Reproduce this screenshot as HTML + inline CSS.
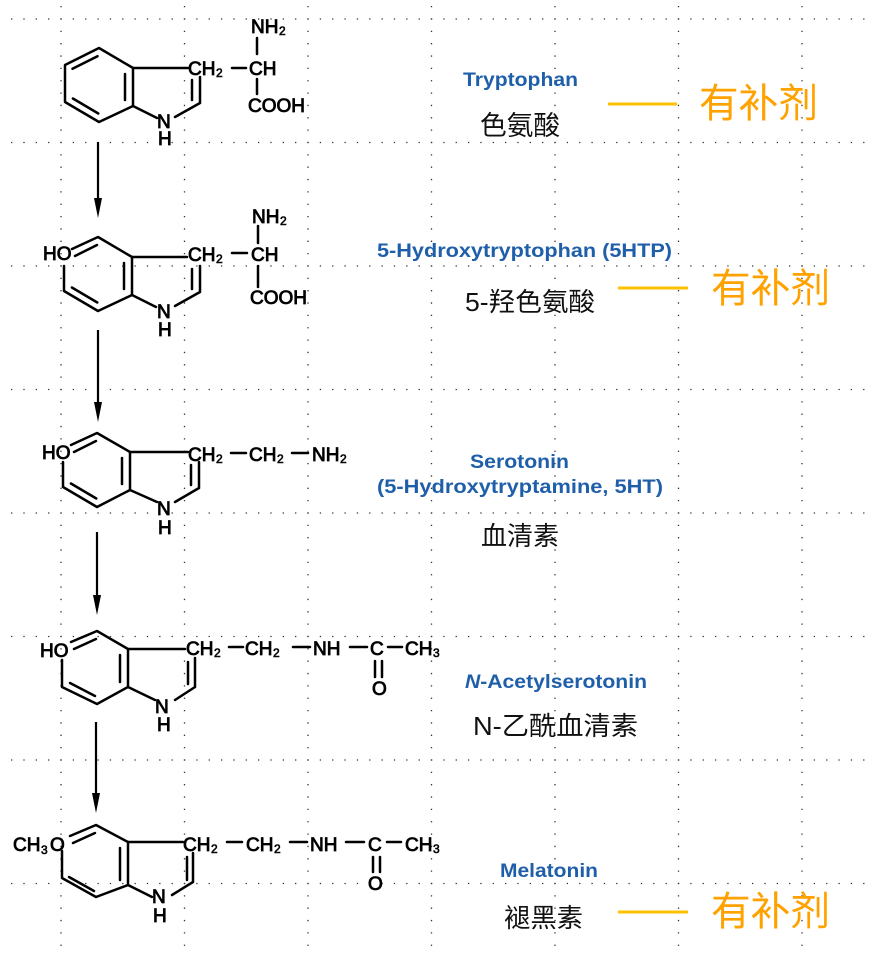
<!DOCTYPE html>
<html><head><meta charset="utf-8"><style>
html,body{margin:0;padding:0;background:#fff;}
svg{display:block;}
.s text{font-family:"Liberation Sans",Arial,sans-serif;font-size:19px;fill:#000;stroke:#000;stroke-width:0.85;}
.s text.sub{font-size:12px;stroke-width:0.6;}
.b{stroke:#000;stroke-width:2.5;fill:none;stroke-linecap:round;stroke-linejoin:round;}
.lbl{font-family:"Liberation Sans",Arial,sans-serif;font-weight:bold;font-size:19px;fill:#1f5faa;}
.cn{font-family:"Liberation Sans","Noto Sans CJK SC",sans-serif;fill:#111;}
.or{font-family:"Noto Sans CJK SC","Liberation Sans",sans-serif;fill:#ffa200;font-size:40px;}
</style></head><body>
<svg width="871" height="955" viewBox="0 0 871 955" xmlns="http://www.w3.org/2000/svg">
<rect width="871" height="955" fill="#fff"/>
<g stroke="#333" stroke-width="1.3" stroke-dasharray="1.3 11.05">
<line x1="11" y1="19" x2="871" y2="19"/>
<line x1="11" y1="142.5" x2="871" y2="142.5"/>
<line x1="11" y1="266" x2="871" y2="266"/>
<line x1="11" y1="389.5" x2="871" y2="389.5"/>
<line x1="11" y1="513" x2="871" y2="513"/>
<line x1="11" y1="636.5" x2="871" y2="636.5"/>
<line x1="11" y1="760" x2="871" y2="760"/>
<line x1="11" y1="883.5" x2="871" y2="883.5"/>
<line x1="61" y1="6" x2="61" y2="955"/>
<line x1="184.5" y1="6" x2="184.5" y2="955"/>
<line x1="308" y1="6" x2="308" y2="955"/>
<line x1="431.5" y1="6" x2="431.5" y2="955"/>
<line x1="555" y1="6" x2="555" y2="955"/>
<line x1="678.5" y1="6" x2="678.5" y2="955"/>
<line x1="802" y1="6" x2="802" y2="955"/>
</g>

<!-- S1 Tryptophan -->
<g class="b">
<path d="M65,65 L99,48 L133,68 L133,106 L99,122 L65,102 Z"/>
<path d="M72.5,68.8 L97.5,56.2 M125,74 L125,100 M72.9,98.5 L98.3,113.5 M133,68 L188,68 M200,77 L200,103 M192,80 L192,100 M200,103 L175,117 M133,106 L157,118"/>
<path d="M232,68 L246,68 M257,38 L257,54 M257,79 L257,94"/>
</g>
<g class="s">
<text x="251" y="33">NH</text><text class="sub" x="279" y="35">2</text>
<text x="188" y="75">CH</text><text class="sub" x="216" y="77">2</text>
<text x="249" y="75">CH</text>
<text x="248" y="112">COOH</text>
<text x="157" y="128">N</text><text x="158" y="145">H</text>
</g>

<!-- Arrows -->
<g stroke="#000" stroke-width="2.2">
<line x1="98" y1="142" x2="98" y2="202"/>
<line x1="98" y1="330" x2="98" y2="406"/>
<line x1="97" y1="532" x2="97" y2="599"/>
<line x1="96" y1="722" x2="96" y2="795"/>
</g>
<g fill="#000">
<polygon points="94,198 102,198 98,218"/>
<polygon points="94,402 102,402 98,422"/>
<polygon points="93,595 101,595 97,615"/>
<polygon points="92,793 100,793 96,813"/>
</g>

<!-- S2 5HTP -->
<g class="b" transform="translate(-1,189)">
<path d="M73,60 L99,48 L133,68 L133,106 L99,122 L65,102 L65,77"/>
<path d="M76,67 L98,56 M125,74 L125,100 M72.9,98.5 L98.3,113.5 M133,68 L188,68 M201,77 L201,103 M193,80 L193,100 M201,103 L176,117 M133,106 L157,118"/>
</g>
<g class="b"><path d="M232,253 L247,253 M258,226 L258,243 M258,266 L258,287"/></g>
<g class="s">
<text x="43" y="260">HO</text>
<text x="252" y="223">NH</text><text class="sub" x="280" y="225">2</text>
<text x="188" y="261">CH</text><text class="sub" x="216" y="263">2</text>
<text x="251" y="261">CH</text>
<text x="250" y="304">COOH</text>
<text x="157" y="318">N</text><text x="158" y="336">H</text>
</g>

<!-- S3 Serotonin -->
<g class="b" transform="translate(-2,385)">
<path d="M73,60 L99,48 L132,67 L132,105 L99,122 L65,102 L65,77"/>
<path d="M76,67 L98,56 M124,73 L124,99 M72.9,98.5 L98.3,113.5 M132,67 L190,67 M201,77 L201,103 M193,80 L193,100 M201,103 L177,117 M132,105 L159,117"/>
</g>
<g class="b"><path d="M231,453 L246,453 M292,453 L308,453"/></g>
<g class="s">
<text x="42" y="459">HO</text>
<text x="188" y="461">CH</text><text class="sub" x="216" y="463">2</text>
<text x="249" y="461">CH</text><text class="sub" x="277" y="463">2</text>
<text x="312" y="461">NH</text><text class="sub" x="340" y="463">2</text>
<text x="157" y="515">N</text><text x="158" y="534">H</text>
</g>

<!-- S4 N-Acetylserotonin -->
<g class="b" transform="translate(-4,583)">
<path d="M75,59 L101,48 L132,66 L132,104 L101,121 L66,104 L66,77"/>
<path d="M78,66 L100,56 M124,72 L124,99 M74,100 L99,113 M132,66 L189,66 M199,75 L199,104 M192,79 L192,101 M199,104 L179,117 M132,104 L159,117"/>
</g>
<g class="b"><path d="M229,647 L243,647 M293,647 L310,647 M350,647 L367,647 M388,647 L402,647 M375,661 L375,677 M382,661 L382,677"/></g>
<g class="s">
<text x="40" y="657">HO</text>
<text x="186" y="655">CH</text><text class="sub" x="214" y="657">2</text>
<text x="245" y="655">CH</text><text class="sub" x="273" y="657">2</text>
<text x="313" y="655">NH</text>
<text x="370" y="655">C</text>
<text x="405" y="655">CH</text><text class="sub" x="433" y="657">3</text>
<text x="372" y="695">O</text>
<text x="155" y="713">N</text><text x="157" y="731">H</text>
</g>

<!-- S5 Melatonin -->
<g class="b" transform="translate(-5,777)">
<path d="M75,59 L101,48 L133,65 L133,108 L101,120 L67,101 L67,74"/>
<path d="M78,66 L100,56 M125,71 L125,103 M74,100 L99,114 M133,65 L188,65 M198,76 L198,105 M192,80 L192,103 M198,105 L177,118 M133,108 L157,120"/>
</g>
<g class="b"><path d="M227,842 L242,842 M290,842 L307,842 M346,842 L364,842 M387,842 L401,842 M373,857 L373,872 M380,857 L380,872"/></g>
<g class="s">
<text x="13" y="851">CH</text><text class="sub" x="41" y="854">3</text><text x="50" y="851">O</text>
<text x="183" y="851">CH</text><text class="sub" x="211" y="853">2</text>
<text x="246" y="851">CH</text><text class="sub" x="274" y="853">2</text>
<text x="310" y="851">NH</text>
<text x="368" y="851">C</text>
<text x="405" y="851">CH</text><text class="sub" x="433" y="853">3</text>
<text x="368" y="890">O</text>
<text x="152" y="903">N</text><text x="153" y="922">H</text>
</g>

<!-- Blue labels -->
<text class="lbl" x="463" y="86" textLength="115" lengthAdjust="spacingAndGlyphs">Tryptophan</text>
<text class="lbl" x="377" y="257" textLength="295" lengthAdjust="spacingAndGlyphs">5-Hydroxytryptophan (5HTP)</text>
<text class="lbl" x="470" y="468" textLength="99" lengthAdjust="spacingAndGlyphs">Serotonin</text>
<text class="lbl" x="377" y="493" textLength="286" lengthAdjust="spacingAndGlyphs">(5-Hydroxytryptamine, 5HT)</text>
<text class="lbl" x="465" y="688" textLength="182" lengthAdjust="spacingAndGlyphs"><tspan font-style="italic">N</tspan>-Acetylserotonin</text>
<text class="lbl" x="500" y="877" textLength="98" lengthAdjust="spacingAndGlyphs">Melatonin</text>

<!-- Chinese labels -->
<text class="cn" x="480" y="135" font-size="27" textLength="80" lengthAdjust="spacingAndGlyphs">色氨酸</text>
<text class="cn" x="465" y="311" font-size="26" textLength="130" lengthAdjust="spacingAndGlyphs">5-羟色氨酸</text>
<text class="cn" x="481" y="545" font-size="26" textLength="78" lengthAdjust="spacingAndGlyphs">血清素</text>
<text class="cn" x="473" y="735" font-size="26" textLength="165" lengthAdjust="spacingAndGlyphs">N-乙酰血清素</text>
<text class="cn" x="504" y="927" font-size="26" textLength="79" lengthAdjust="spacingAndGlyphs">褪黑素</text>

<!-- Orange -->
<g stroke="#ffc000" stroke-width="3">
<line x1="608" y1="104" x2="677" y2="104"/>
<line x1="618" y1="288" x2="688" y2="288"/>
<line x1="618" y1="912" x2="688" y2="912"/>
</g>
<text class="or" x="699" y="117" textLength="119" lengthAdjust="spacingAndGlyphs">有补剂</text>
<text class="or" x="711" y="302" textLength="119" lengthAdjust="spacingAndGlyphs">有补剂</text>
<text class="or" x="711" y="925" textLength="119" lengthAdjust="spacingAndGlyphs">有补剂</text>
</svg>
</body></html>
